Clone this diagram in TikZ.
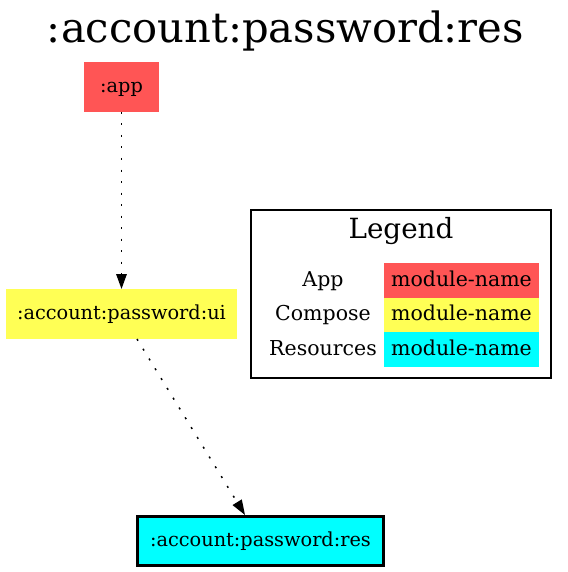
\documentclass[tikz,border=0pt]{standalone}
\usepackage{fontspec}
\setmainfont{DejaVu Serif}
\usetikzlibrary{arrows.meta}
\definecolor{appred}{HTML}{FF5555}
\definecolor{composeyellow}{HTML}{FFFF55}
\definecolor{rescyan}{HTML}{00FFFF}
\begin{document}
\begin{tikzpicture}[x=1pt,y=-1pt,
  mod/.style={inner sep=0pt, outer sep=0pt, text height=11pt, text depth=0pt,
    font=\fontsize{19.3}{23}\selectfont},
  dep/.style={line width=1.5pt, dash pattern=on 2pt off 9.5pt,
    -{Triangle[length=15pt,width=10.5pt]}},
  legcell/.style={inner sep=0pt, outer sep=0pt, text height=11pt, text depth=0pt,
    font=\fontsize{20.5}{24}\selectfont, minimum width=155pt, minimum height=35pt},
  leglabel/.style={inner sep=0pt, text height=11pt, text depth=0pt,
    font=\fontsize{20.5}{24}\selectfont}]
\useasboundingbox (0,0) rectangle (567,572);
% title
\node[anchor=base, inner sep=0pt, font=\fontsize{41.7}{48}\selectfont] (title) at (285.5,43) {:account:password:res};
% modules
\node[mod, fill=appred, minimum width=75pt, minimum height=50pt] (app) at (121.5,87) {:app};
\node[mod, fill=composeyellow, minimum width=231pt, minimum height=50pt] (ui) at (121.5,314) {:account:password:ui};
\node[mod, fill=rescyan, draw=black, line width=3.4pt, outer sep=1.7pt, minimum width=245.6pt, minimum height=48.6pt] (res) at (260.5,541) {:account:password:res};
% edges
\draw[dep] (app.south) -- (ui.north);
\draw[dep] ([xshift=15.5pt]ui.south) -- ([xshift=-15.5pt]res.north);
% legend
\node[draw=black, line width=1.2pt, minimum width=300pt, minimum height=168pt, inner sep=0pt] (legend) at (401,294) {};
\node[anchor=base, inner sep=0pt, font=\fontsize{27.8}{32}\selectfont] (legtitle) at (401,238) {Legend};
\node[leglabel] (lapp) at (323,280.5) {App};
\node[leglabel] (lcomp) at (323,315) {Compose};
\node[leglabel] (lres) at (323,349.5) {Resources};
\node[legcell, fill=appred] (capp) at (461.5,280.5) {module-name};
\node[legcell, fill=composeyellow, minimum height=34pt] (ccomp) at (461.5,315) {module-name};
\node[legcell, fill=rescyan] (cres) at (461.5,349.5) {module-name};
\end{tikzpicture}
\end{document}
